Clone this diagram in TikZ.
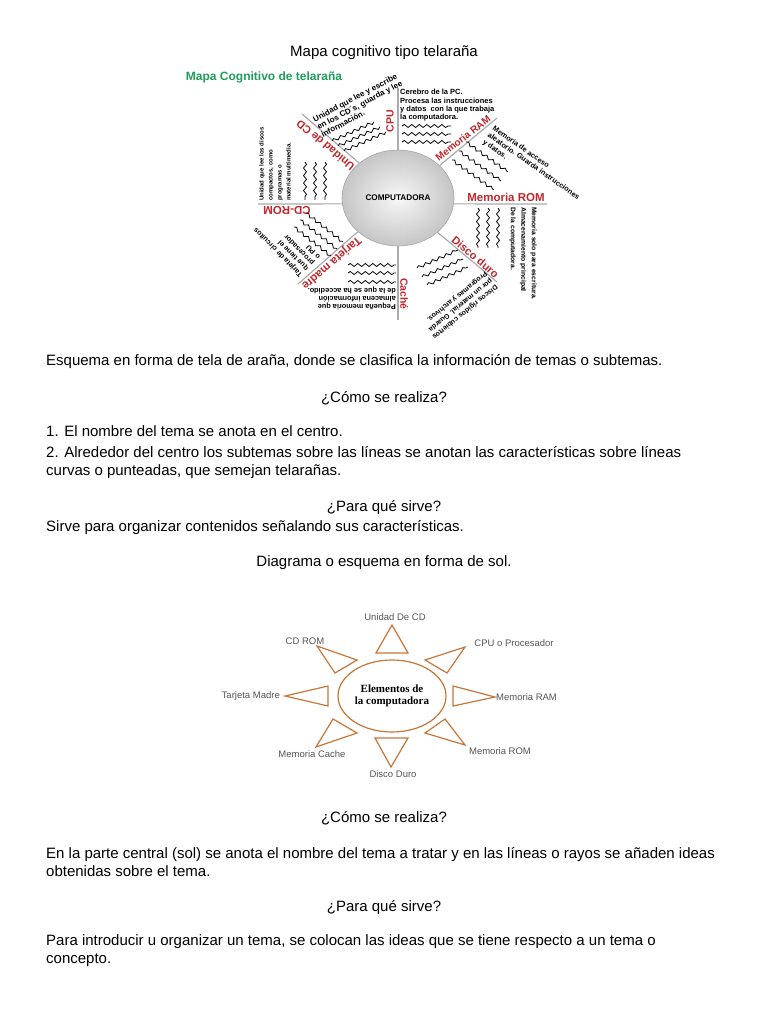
\documentclass[tikz,border=0pt]{standalone}
\usepackage{fontspec}
\setmainfont{Liberation Sans}
\newfontfamily\serifa{Liberation Serif}
\usepackage{xcolor}
\usetikzlibrary{shapes.geometric,decorations.pathmorphing}
\definecolor{mapgreen}{HTML}{1E9E5A}
\definecolor{mapred}{HTML}{C0282D}
\definecolor{solorange}{HTML}{C8763A}
\definecolor{solgray}{HTML}{555555}

\tikzset{
  parrafo/.style={anchor=base west, inner sep=0pt, font=\fontsize{15}{17}\selectfont},
  centrado/.style={anchor=base, inner sep=0pt, font=\fontsize{15}{17}\selectfont},
  rama/.style={draw=gray!65, line width=1.2pt},
  etiqueta/.style={text=mapred, font=\fontsize{11.5}{12}\selectfont\bfseries, inner sep=1pt},
  nota/.style={align=left, inner sep=0pt, font=\fontsize{7.5}{8.4}\selectfont\bfseries},
  onda/.style={decorate, decoration={snake, amplitude=1.5pt, segment length=7.5pt}, line width=0.8pt},
  rayo/.style={draw=solorange, line width=1.2pt, line join=miter},
  rayotexto/.style={text=solgray, font=\fontsize{9.5}{10}\selectfont, inner sep=0pt}
}

\begin{document}
\begin{tikzpicture}[x=1pt,y=-1pt]
\path[use as bounding box, fill=white] (0,0) rectangle (768,1024);

\node[centrado] (titulo) at (384,57) {Mapa cognitivo tipo telaraña};

% telarana
\node[text=mapgreen, font=\fontsize{12}{13}\selectfont\bfseries, inner sep=0pt] (maptit) at (264,77) {Mapa Cognitivo de telaraña};
\node[ellipse, minimum width=112, minimum height=96, inner color=gray!6, outer color=gray!45, draw=gray!70, line width=0.6pt,
      font=\fontsize{8.2}{9}\selectfont\bfseries] (comp) at (398,198) {COMPUTADORA};

\coordinate (cpufin) at (398,88);
\coordinate (ramfin) at (497,118);
\coordinate (romfin) at (547,204);
\coordinate (discofin) at (497,282);
\coordinate (cachefin) at (398,320);
\coordinate (tarjfin) at (298,284);
\coordinate (cdromfin) at (258,204);
\coordinate (cdfin) at (302,114);

\draw[rama] (comp) -- (cpufin);
\draw[rama] (comp.38) -- (ramfin);
\draw[rama] (comp.-6) -- (romfin);
\draw[rama] (comp.-41) -- (discofin);
\draw[rama] (comp) -- (cachefin);
\draw[rama] (comp.220) -- (tarjfin);
\draw[rama] (comp.186) -- (cdromfin);
\draw[rama] (comp.138) -- (cdfin);

\node[etiqueta, rotate=90, anchor=south, font=\fontsize{10.5}{11}\selectfont\bfseries] (lcpu) at (395,121) {CPU};
\node[etiqueta, rotate=38, anchor=south, font=\fontsize{10}{11}\selectfont\bfseries] (lram) at (466,142) {Memoria RAM};
\node[etiqueta, anchor=south] (lrom) at (506,203) {Memoria ROM};
\node[etiqueta, rotate=-40, anchor=south, font=\fontsize{11}{12}\selectfont\bfseries] (ldisco) at (472,261) {Disco duro};
\node[etiqueta, rotate=-90, anchor=south, font=\fontsize{10.5}{11}\selectfont\bfseries] (lcache) at (399,294) {Caché};
\node[etiqueta, rotate=221, anchor=south] (ltarj) at (327,258) {Tarjeta madre};
\node[etiqueta, rotate=180, anchor=south] (lcdrom) at (287,205) {CD-ROM};
\node[etiqueta, rotate=140, anchor=south, inner sep=1.5pt, font=\fontsize{11}{12}\selectfont\bfseries] (lcd) at (329,141) {Unidad de CD};

\node[nota, anchor=north west] (dcpu) at (400,89) {Cerebro de la PC.\\Procesa las instrucciones\\y datos~~con la que trabaja\\la computadora.};
\node[nota, rotate=-35, anchor=north west, font=\fontsize{7.3}{8.4}\selectfont\bfseries] (dram) at (495,125) {Memoria de acceso\\aleatorio. Guarda instrucciones\\y datos.};
\node[nota, rotate=-90, anchor=north west, font=\fontsize{6.8}{10.5}\selectfont\bfseries] (drom) at (537,207) {Memoria solo para escritura.\\Almacenamiento principal\\De la computadora.};
\node[nota, rotate=219, anchor=north west, font=\fontsize{7}{8.4}\selectfont\bfseries] (ddisco) at (499,289) {Discos rígidos cubiertos\\por un material. Guarda\\Programas y archivos.};
\node[nota, rotate=180, anchor=north west, font=\fontsize{7.3}{8.2}\selectfont\bfseries] (dcache) at (396,310) {Pequeña memoria que\\almacena información\\de la que se ha accedido.};
\node[nota, rotate=135, anchor=north west, font=\fontsize{7.2}{8.4}\selectfont\bfseries] (dtarj) at (299,278) {Tarjeta de circuitos\\que tiene el\\procesador\\o PU};
\node[nota, rotate=90, anchor=north west, font=\fontsize{6}{9}\selectfont\bfseries] (dcdrom) at (259,201) {Unidad que lee los discos\\compactos, como\\programas o\\material multimedia.};
\node[nota, rotate=28, anchor=north west, font=\fontsize{8}{8.6}\selectfont\bfseries] (dcd) at (312,117) {Unidad que lee y escribe\\en los CD´s, guarda y lee\\información.};

% ondas
\foreach \y in {126,134,142} \draw[onda] (402,\y) -- (451,\y);
\foreach \dx/\dy in {0/0,-7/9,-14/18} \draw[onda] ({466+\dx},{142+\dy}) -- ({508+\dx},{172+\dy});
\foreach \x in {478,488,498} \draw[onda] (\x,208) -- (\x,248);
\foreach \dx/\dy in {0/0,5/9,10/17} \draw[onda] ({417+\dx},{268+\dy}) -- ({458+\dx},{250+\dy});
\foreach \y in {265,273,282} \draw[onda] (348,\y) -- (396,\y);
\foreach \dx/\dy in {0/0,-6/7,-12/14} \draw[onda] ({306+\dx},{213+\dy}) -- ({343+\dx},{242+\dy});
\foreach \x in {305,315,325} \draw[onda] (\x,162) -- (\x,200);
\foreach \dx/\dy in {0/0,6/5,12/10} \draw[onda] ({332+\dx},{141+\dy}) -- ({374+\dx},{122+\dy});

\node[parrafo] (p1) at (46,365) {Esquema en forma de tela de araña, donde se clasifica la información de temas o subtemas.};
\node[centrado] (q1) at (384,402) {¿Cómo se realiza?};
\node[parrafo] (p2) at (46,436) {1. El nombre del tema se anota en el centro.};
\node[parrafo] (p3) at (46,457) {2. Alrededor del centro los subtemas sobre las líneas se anotan las características sobre líneas};
\node[parrafo] (p4) at (46,475) {curvas o punteadas, que semejan telarañas.};
\node[centrado] (q2) at (384,511) {¿Para qué sirve?};
\node[parrafo] (p5) at (46,531) {Sirve para organizar contenidos señalando sus características.};
\node[centrado] (titsol) at (384,566) {Diagrama o esquema en forma de sol.};

% sol
\node[ellipse, draw=solorange, line width=1.2pt, minimum width=108, minimum height=72, align=center, inner sep=0pt,
      font=\serifa\fontsize{11}{12.5}\selectfont\bfseries] (sol) at (392,696) {Elementos de\\la computadora};
\draw[rayo] (392,625) -- (376,653) -- (408,653) -- cycle;
\draw[rayo] (317,646) -- (357,660) -- (335,673) -- cycle;
\draw[rayo] (285,696) -- (328,686) -- (328,706) -- cycle;
\draw[rayo] (316,747) -- (333,719) -- (357,733) -- cycle;
\draw[rayo] (391,767) -- (375,738) -- (408,738) -- cycle;
\draw[rayo] (465,745) -- (445,719) -- (425,733) -- cycle;
\draw[rayo] (495,697) -- (453,686) -- (453,706) -- cycle;
\draw[rayo] (465,647) -- (425,660) -- (447,673) -- cycle;

\node[rayotexto] (rcd) at (395,617) {Unidad De CD};
\node[rayotexto] (rcdrom) at (305,641) {CD ROM};
\node[rayotexto] (rcpu) at (514,643) {CPU o Procesador};
\node[rayotexto, anchor=east] (rtarj) at (280,696) {Tarjeta Madre};
\node[rayotexto, anchor=west] (rram) at (496,697) {Memoria RAM};
\node[rayotexto] (rcache) at (312,754) {Memoria Cache};
\node[rayotexto] (rrom) at (500,751) {Memoria ROM};
\node[rayotexto] (rdisco) at (393,774) {Disco Duro};

\node[centrado] (q3) at (384,822) {¿Cómo se realiza?};
\node[parrafo] (p6) at (46,858) {En la parte central (sol) se anota el nombre del tema a tratar y en las líneas o rayos se añaden ideas};
\node[parrafo] (p7) at (46,876) {obtenidas sobre el tema.};
\node[centrado] (q4) at (384,911) {¿Para qué sirve?};
\node[parrafo] (p8) at (46,945) {Para introducir u organizar un tema, se colocan las ideas que se tiene respecto a un tema o};
\node[parrafo] (p9) at (46,963) {concepto.};
\end{tikzpicture}
\end{document}
